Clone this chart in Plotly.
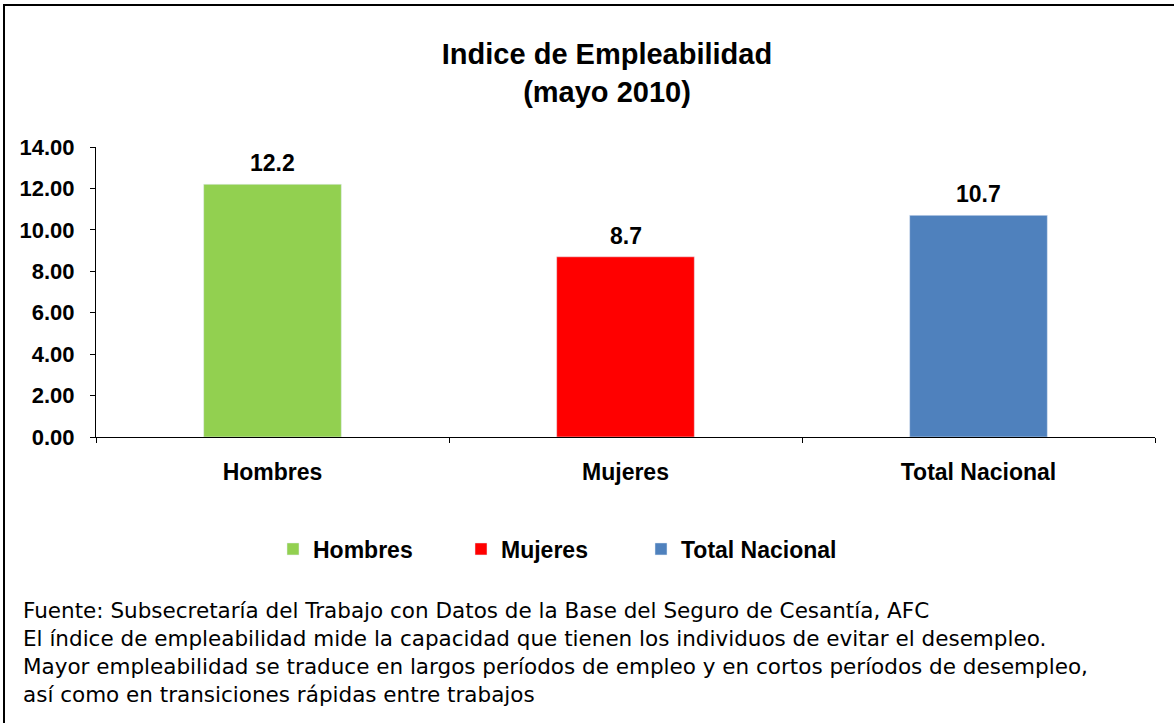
import plotly.graph_objects as go

categories = ["Hombres", "Mujeres", "Total Nacional"]
values = [12.2, 8.7, 10.7]
colors = ["#92D050", "#FF0000", "#4F81BD"]
y_ticks = [0, 2, 4, 6, 8, 10, 12, 14]

W, H = 1174, 723
L, R, T, B = 96, 1155, 147, 437
pw, ph = R - L, B - T

def px(x):
    return (x - L) / pw

def py(y):
    return (B - y) / ph

FONT = "Liberation Sans, Arial"
BOLD = dict(family=FONT, size=23, color="black", weight="bold")

legend_names = ["legend", "legend2", "legend3"]
legend_left_px = [273, 461, 641]

fig = go.Figure()
for c, v, col, lg in zip(categories, values, colors, legend_names):
    fig.add_trace(go.Bar(
        x=[c], y=[v], name=c, marker_color=col, width=0.39, legend=lg,
    ))
    fig.add_annotation(x=c, y=v, xref="x", yref="y", text=f"{v:.1f}",
                       showarrow=False, yanchor="bottom", yshift=6, font=BOLD)

legend_common = dict(orientation="h", yanchor="middle", y=py(549),
                     xanchor="left", font=BOLD, itemwidth=30,
                     bgcolor="rgba(0,0,0,0)")

fig.update_layout(
    width=W, height=H,
    margin=dict(l=L, r=W - R, t=T, b=H - B),
    paper_bgcolor="white", plot_bgcolor="white",
    barmode="overlay",
    font=dict(family=FONT, color="black"),
    title=dict(text="Indice de Empleabilidad<br>(mayo 2010)",
               x=607 / W, xanchor="center", y=1 - 64 / H, yanchor="top",
               font=dict(size=29, color="black", family=FONT, weight="bold")),
    showlegend=True,
    legend=dict(x=px(legend_left_px[0]), **legend_common),
    legend2=dict(x=px(legend_left_px[1]), **legend_common),
    legend3=dict(x=px(legend_left_px[2]), **legend_common),
)
fig.update_xaxes(
    type="category", categoryorder="array", categoryarray=categories,
    showline=True, linecolor="black", linewidth=1,
    ticks="outside", tickson="boundaries", ticklen=5, tickcolor="black",
    tickfont=BOLD, ticklabelstandoff=14,
    range=[-0.5, 2.5], showgrid=False,
)
fig.update_yaxes(
    range=[0, 14], tickvals=y_ticks, tickformat=".2f",
    showline=True, linecolor="black", linewidth=1,
    ticks="outside", ticklen=5, tickcolor="black",
    tickfont=dict(family=FONT, size=22, color="black", weight="bold"),
    ticklabelstandoff=11,
    showgrid=False, zeroline=False,
)

# outer chart-area frame (cropped on right and bottom in the reference)
fig.add_shape(type="rect", xref="paper", yref="paper",
              x0=px(4), x1=px(1190), y0=py(740), y1=py(5),
              line=dict(color="black", width=2), layer="below")

notes = [
    "Fuente: Subsecretaría del Trabajo con Datos de la Base del Seguro de Cesantía, AFC",
    "El índice de empleabilidad mide la capacidad que tienen los individuos de evitar el desempleo.",
    "Mayor empleabilidad se traduce en largos períodos de empleo y en cortos períodos de desempleo,",
    "así como en transiciones rápidas entre trabajos",
]
fig.add_annotation(
    xref="paper", yref="paper", x=px(21), y=py(596), xanchor="left", yanchor="top",
    text="<br>".join(notes), showarrow=False, align="left",
    font=dict(size=21.5, color="black", family="DejaVu Sans"),
)

fig.write_html("out.html", config={"displayModeBar": False},
               post_script="document.body.style.margin='0';")
